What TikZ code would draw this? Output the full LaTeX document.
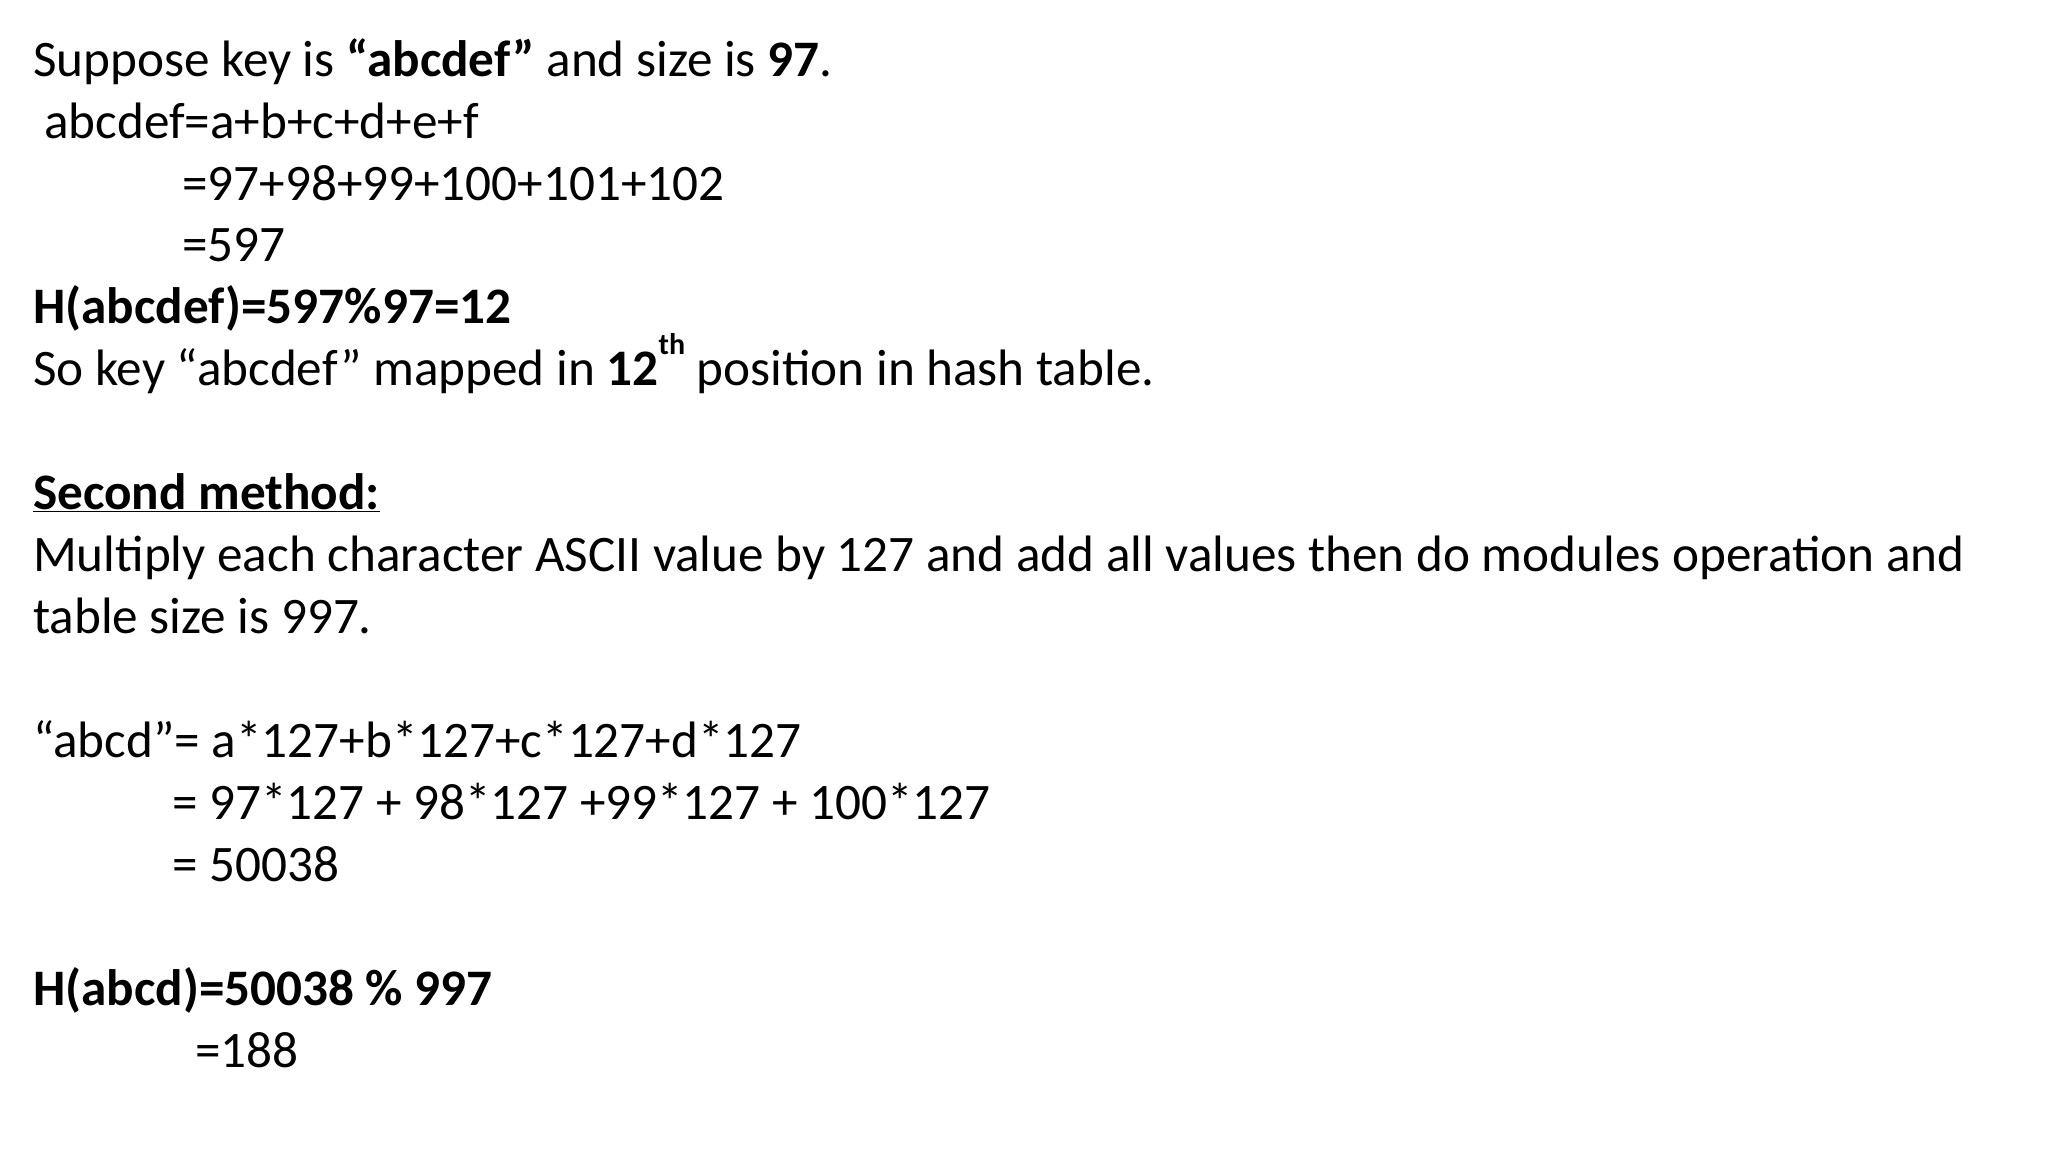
\documentclass[tikz,border=0pt]{standalone}
\usepackage{fontspec}
\setmainfont{Carlito}
\begin{document}
\begin{tikzpicture}[x=1pt,y=-1pt,
  t/.style={anchor=base west,inner sep=0pt,font=\fontsize{51.2}{60}\selectfont}]
\useasboundingbox (0,0) rectangle (2048,1152);
\node[t] (l1) at (33,76) {Suppose key is \textbf{“abcdef”} and size is \textbf{97}.};
\node[t] (l2) at (44,138) {abcdef=a+b+c+d+e+f};
\node[t] (l3) at (182,200) {=97+98+99+100+101+102};
\node[t] (l4) at (182,261) {=597};
\node[t] (l5) at (33,323) {\textbf{H(abcdef)=597\%97=12}};
\node[t] (l6) at (33,385) {So key “abcdef” mapped in \textbf{12\raisebox{0.6em}{\fontsize{30}{30}\selectfont th}} position in hash table.};
\node[t] (l7) at (33,509) {\textbf{\underline{Second method:}}};
\node[t] (l8) at (33,571) {Multiply each character ASCII value by 127 and add all values then do modules operation and};
\node[t] (l9) at (33,633) {table size is 997.};
\node[t] (l10) at (33,757) {“abcd”= a*127+b*127+c*127+d*127};
\node[t] (l11) at (172,819) {= 97*127 + 98*127 +99*127 + 100*127};
\node[t] (l12) at (172,881) {= 50038};
\node[t] (l13) at (33,1005) {\textbf{H(abcd)=50038 \% 997}};
\node[t] (l14) at (195,1067) {=188};
\end{tikzpicture}
\end{document}
